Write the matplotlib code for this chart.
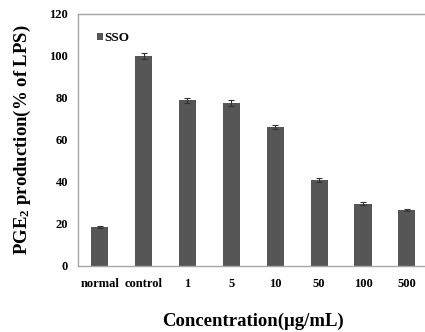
import matplotlib
matplotlib.use("Agg")
import matplotlib.pyplot as plt

plt.rcParams["font.family"] = "Liberation Serif"
plt.rcParams["font.weight"] = "bold"
plt.rcParams["axes.labelweight"] = "bold"
plt.rcParams["mathtext.fontset"] = "custom"
plt.rcParams["mathtext.rm"] = "Liberation Serif:bold"
plt.rcParams["mathtext.it"] = "Liberation Serif:bold"
plt.rcParams["mathtext.bf"] = "Liberation Serif:bold"

categories = ["normal", "control", "1", "5", "10", "50", "100", "500"]
values = [18.5, 100.0, 78.8, 77.6, 66.2, 41.0, 29.6, 26.8]
errors = [0.5, 1.3, 1.4, 1.5, 1.0, 0.9, 0.8, 0.5]
yticks = [0, 20, 40, 60, 80, 100, 120]

_C_BAR = "#565656"
_C_SPINE = "#a6a6a6"

fig = plt.figure(figsize=(4.25, 3.32), dpi=100)
# the plot box runs slightly past the right edge of the picture
ax = fig.add_axes([0.183, 0.199, 0.826, 0.759])

x = list(range(len(categories)))
ax.bar(x, values, width=0.39, color=_C_BAR, label="SSO", zorder=2)
ax.errorbar(x, values, yerr=errors, fmt="none", ecolor="#333333",
            elinewidth=0.8, capsize=2.2, capthick=0.8, zorder=3)

ax.set_xlim(-0.5, len(categories) - 0.5)
ax.set_ylim(0, 120)
ax.set_yticks(yticks)
ax.set_xticks(x)
ax.set_xticklabels(categories)
ax.tick_params(axis="both", length=0, labelsize=9)
ax.tick_params(axis="x", pad=9)
ax.tick_params(axis="y", pad=7)
for s in ax.spines.values():
    s.set_color(_C_SPINE)
    s.set_linewidth(1.0)
ax.spines["right"].set_visible(False)

ax.set_ylabel("PGE$_2$ production(% of LPS)", fontsize=13.5, fontweight="bold", labelpad=12)
ax.set_xlabel("Concentration(\u03bcg/mL)", fontsize=13.5, fontweight="bold", labelpad=16)

ax.legend(loc="upper left", bbox_to_anchor=(0.02, 0.975), frameon=False,
          handlelength=0.45, handleheight=0.45, handletextpad=0.15,
          prop={"family": "Liberation Serif", "weight": "bold", "size": 9.5})

fig.savefig("out.png", dpi=100)
plt.close(fig)
